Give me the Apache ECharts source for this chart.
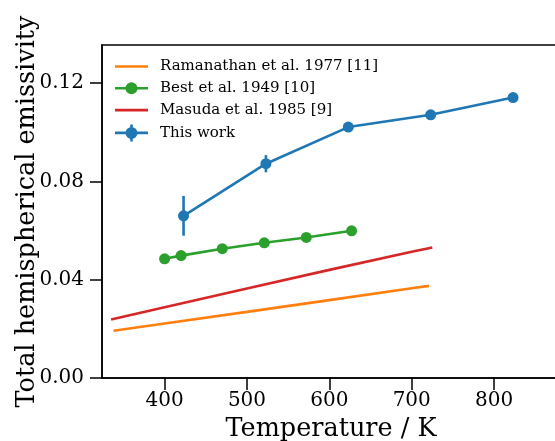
<!DOCTYPE html>
<html>
<head>
<meta charset="utf-8">
<script src="https://cdn.jsdelivr.net/npm/echarts@6/dist/echarts.min.js"></script>
<style>
  html, body { margin: 0; padding: 0; background: #fff; }
  #chart { width: 555px; height: 441px; }
</style>
</head>
<body>
<div id="chart"></div>
<script>
// Temperatures (K) and total hemispherical emissivity for each data set
const thisWorkT = [423, 523, 623, 723, 823];
const thisWorkEps = [0.0660, 0.0872, 0.1021, 0.1071, 0.1141];
const thisWorkErr = [0.0081, 0.0035, 0.0015, 0.0012, 0.0012];

const bestT = [400, 420, 470, 521, 572, 627];
const bestEps = [0.0485, 0.0498, 0.0526, 0.0550, 0.0572, 0.0599];

const masudaT = [335, 400, 500, 600, 700, 725];
const masudaEps = [0.0238, 0.0288, 0.0364, 0.0440, 0.0514, 0.0531];

const ramanathanT = [338, 400, 500, 600, 700, 721];
const ramanathanEps = [0.0192, 0.0222, 0.0269, 0.0317, 0.0365, 0.0375];

// Axis ticks
const xTicks = [400, 500, 600, 700, 800];
const yTicks = [0, 0.04, 0.08, 0.12];

const C_BLUE = '#1f77b4', C_ORANGE = '#ff7f0e', C_GREEN = '#2ca02c', C_RED = '#d62728';
const FONT = '"DejaVu Serif", serif';

const pairs = (xs, ys) => xs.map((x, i) => [x, ys[i]]);

// Legend glyphs: plain line, line with dot, line with dot and error bar
const ICON_LINE = 'path://M0 0 H33 V2.6 H0 Z';
const ICON_DOT = 'path://M0 4.7 H33 V7.3 H0 Z M10.5 6 A6 6 0 1 1 22.5 6 A6 6 0 1 1 10.5 6 Z';
const ICON_ERR = 'path://M0 7.2 H33 V9.8 H0 Z M10.5 8.5 A6 6 0 1 1 22.5 8.5 A6 6 0 1 1 10.5 8.5 Z M15.2 0 H17.8 V17 H15.2 Z';

const chart = echarts.init(document.getElementById('chart'), null, { renderer: 'canvas' });

const tickStyle = { color: '#000', width: 1.5 };

chart.setOption({
  animation: false,
  backgroundColor: '#fff',
  grid: {
    left: 102, top: 45, width: 458, height: 333,
    outerBoundsMode: 'none', containLabel: false,
    show: true, borderColor: '#000', borderWidth: 1.5, backgroundColor: 'transparent',
  },
  legend: {
    orient: 'vertical',
    left: 115,
    top: 59,
    padding: 0,
    itemWidth: 33,
    itemHeight: 18,
    itemGap: 6.8,
    symbolKeepAspect: true,
    itemStyle: { borderWidth: 0 },
    textStyle: { fontFamily: FONT, fontSize: 15, color: '#000', padding: [0, 0, 0, 7] },
    data: [
      { name: 'Ramanathan et al. 1977 [11]', icon: ICON_LINE },
      { name: 'Best et al. 1949 [10]', icon: ICON_DOT },
      { name: 'Masuda et al. 1985 [9]', icon: ICON_LINE },
      { name: 'This work', icon: ICON_ERR },
    ],
  },
  xAxis: {
    type: 'value',
    min: 324,
    max: 880,
    name: 'Temperature / K',
    nameLocation: 'middle',
    nameGap: 38,
    nameMoveOverlap: false,
    nameTextStyle: { fontFamily: FONT, fontSize: 25.5, color: '#000', verticalAlign: 'top' },
    axisLine: { show: true, onZero: false, lineStyle: tickStyle },
    axisTick: { show: true, inside: false, length: 12, lineStyle: tickStyle, customValues: xTicks },
    axisLabel: { customValues: xTicks, margin: 13, fontFamily: FONT, fontSize: 20, color: '#000' },
    splitLine: { show: false },
  },
  yAxis: {
    type: 'value',
    min: 0,
    max: 0.1355,
    name: 'Total hemispherical emissivity',
    nameLocation: 'middle',
    nameGap: 62,
    nameMoveOverlap: false,
    nameTextStyle: { fontFamily: FONT, fontSize: 25.5, color: '#000' },
    axisLine: { show: true, onZero: false, lineStyle: tickStyle },
    axisTick: { show: true, inside: false, length: 12, lineStyle: tickStyle, customValues: yTicks },
    axisLabel: {
      customValues: yTicks, margin: 18, fontFamily: FONT, fontSize: 20, color: '#000',
      formatter: (v) => v.toFixed(2),
    },
    splitLine: { show: false },
  },
  series: [
    {
      name: 'Ramanathan et al. 1977 [11]',
      type: 'line',
      data: pairs(ramanathanT, ramanathanEps),
      symbol: 'none',
      color: C_ORANGE,
      lineStyle: { width: 2.6, color: C_ORANGE },
      z: 2,
    },
    {
      name: 'Best et al. 1949 [10]',
      type: 'line',
      data: pairs(bestT, bestEps),
      symbol: 'circle',
      symbolSize: 11,
      color: C_GREEN,
      itemStyle: { color: C_GREEN, borderWidth: 0 },
      lineStyle: { width: 2.6, color: C_GREEN },
      z: 3,
    },
    {
      name: 'Masuda et al. 1985 [9]',
      type: 'line',
      data: pairs(masudaT, masudaEps),
      symbol: 'none',
      color: C_RED,
      lineStyle: { width: 2.6, color: C_RED },
      z: 4,
    },
    {
      name: 'This work error',
      type: 'custom',
      data: thisWorkT.map((t, i) => [t, thisWorkEps[i], thisWorkErr[i]]),
      renderItem: (params, api) => {
        const t = api.value(0), e = api.value(1), d = api.value(2);
        const p0 = api.coord([t, e - d]);
        const p1 = api.coord([t, e + d]);
        return {
          type: 'line',
          shape: { x1: p0[0], y1: p0[1], x2: p1[0], y2: p1[1] },
          style: { stroke: C_BLUE, lineWidth: 2.6 },
        };
      },
      z: 5,
      silent: true,
    },
    {
      name: 'This work',
      type: 'line',
      data: pairs(thisWorkT, thisWorkEps),
      symbol: 'circle',
      symbolSize: 11,
      color: C_BLUE,
      itemStyle: { color: C_BLUE, borderWidth: 0 },
      lineStyle: { width: 2.6, color: C_BLUE },
      z: 6,
    },
  ],
});
</script>
</body>
</html>
